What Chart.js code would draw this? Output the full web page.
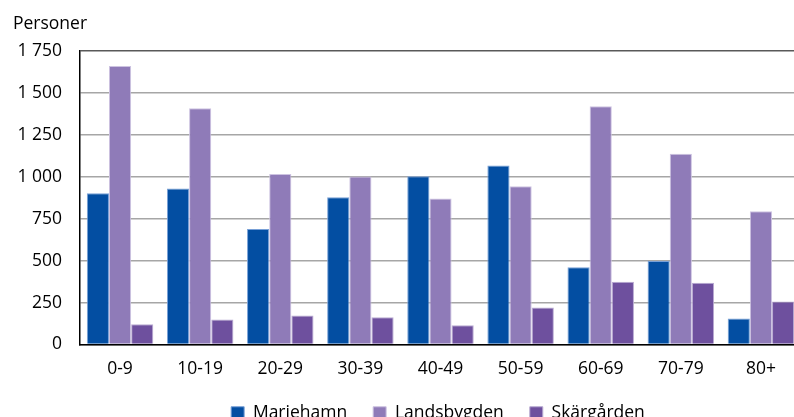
<!DOCTYPE html>
<html>
<head>
<meta charset="utf-8">
<script src="https://cdn.jsdelivr.net/npm/chart.js"></script>
<style>
  body { margin: 0; overflow: hidden; background: #fff; }
  #wrap { width: 876px; height: 432px; }
</style>
</head>
<body>
<div id="wrap"><canvas id="myChart"></canvas></div>
<script>
// åldersgrupper och antal personer per område
let labels = ['0-9', '10-19', '20-29', '30-39', '40-49', '50-59', '60-69', '70-79', '80+'];
let mariehamn = [902, 930, 689, 878, 1003, 1067, 460, 498, 155];
let landsbygden = [1660, 1408, 1017, 1001, 870, 944, 1421, 1137, 794];
let skargarden = [121, 149, 173, 163, 115, 221, 374, 368, 257];
let yTicks = [0, 250, 500, 750, 1000, 1250, 1500, 1750];

let fontName = "'Open Sans', sans-serif";
let fontSize = 17.5;

function fmt(v) {
  // mellanslag som tusentalsavgränsare
  if (v < 1000) return String(v);
  return Math.floor(v / 1000) + ' ' + String(v % 1000).padStart(3, '0');
}

let data = {
  labels: labels,
  datasets: [
    { label: 'Mariehamn', data: mariehamn, backgroundColor: 'rgb(3, 78, 162)', borderColor: 'rgb(120, 160, 215)' },
    { label: 'Landsbygden', data: landsbygden, backgroundColor: 'rgb(143, 123, 184)', borderColor: 'rgb(205, 195, 225)' },
    { label: 'Skärgården', data: skargarden, backgroundColor: 'rgb(110, 80, 158)', borderColor: 'rgb(185, 170, 210)' }
  ]
};
data.datasets.forEach(d => {
  d.borderWidth = 1;
  d.barPercentage = 1.0;
  d.categoryPercentage = 0.83;
});

let config = {
  type: 'bar',
  data: data,
  options: {
    responsive: true,
    maintainAspectRatio: false,
    animation: false,
    layout: { padding: { left: 13, right: 13, top: 14, bottom: 0 } },
    plugins: {
      title: {
        display: true,
        text: 'Personer',
        align: 'start',
        color: '#000',
        font: { family: fontName, size: fontSize, weight: 'normal' },
        padding: { top: 0, bottom: 16 }
      },
      legend: {
        position: 'bottom',
        labels: {
          color: '#000',
          boxWidth: 13,
          boxHeight: 13,
          padding: 26,
          font: { family: fontName, size: fontSize }
        }
      },
      tooltip: { enabled: false }
    },
    scales: {
      x: {
        grid: { display: false },
        border: { color: '#000', width: 1.5 },
        afterFit: axis => { axis.height = axis.height - 7; },
        ticks: { color: '#000', font: { family: fontName, size: fontSize }, padding: 6 }
      },
      y: {
        min: 0,
        max: 1750,
        afterBuildTicks: axis => { axis.ticks = yTicks.map(v => ({ value: v })); },
        afterFit: axis => { axis.width = 67; },
        border: { color: '#000', width: 1.5 },
        grid: {
          drawTicks: false,
          lineWidth: 1.5,
          color: ctx => ctx.tick && ctx.tick.value === 1750 ? '#595959' : '#a6a6a6'
        },
        ticks: {
          color: '#000',
          padding: 18,
          font: { family: fontName, size: fontSize },
          callback: v => fmt(v)
        }
      },
      // tom axel till höger, håller plats för det avskurna området
      yRight: {
        position: 'right',
        min: 0,
        max: 1750,
        grid: { display: false },
        border: { display: false },
        ticks: { display: false },
        afterFit: axis => { axis.width = 62; }
      }
    }
  }
};

let myChart = new Chart(document.getElementById('myChart'), config);
</script>
</body>
</html>
